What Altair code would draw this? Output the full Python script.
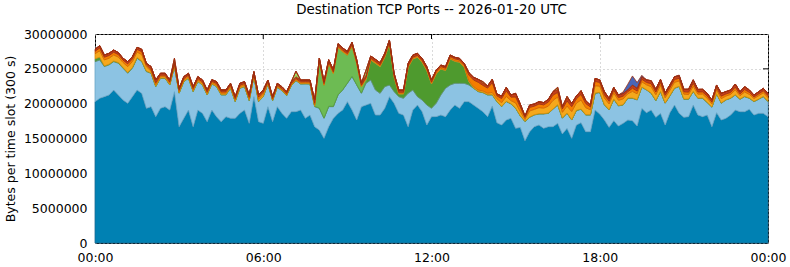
import altair as alt
import pandas as pd

# time slots (hours since 00:00 UTC), one every 10 minutes
SLOT_HOURS = [i / 6 for i in range(145)]

# values in millions of bytes per slot, bottom series first
DARK_BLUE = [
    20.29, 20.77, 21.01, 21.25, 21.96, 21.25, 20.53, 20.05, 21.01, 21.96, 21.48, 19.33, 19.57, 18.14, 19.33, 19.57, 19.09, 21.72, 16.70, 17.90, 19.09, 16.70, 19.09, 18.61, 17.42, 19.09, 18.14, 17.42, 18.14, 17.90, 17.90, 18.61, 19.09, 17.18, 21.01, 17.42, 17.18,
    19.57, 17.42, 19.57, 18.61, 17.90, 18.85, 18.85, 19.09, 17.90, 18.37, 16.70, 16.22, 15.02, 16.70, 17.90, 18.61, 19.09, 20.29, 19.09, 17.66, 19.57, 19.81, 20.05, 18.37, 18.37, 19.33, 21.01, 20.05, 18.61, 18.37, 16.70, 19.09, 19.81, 18.85, 16.94, 18.14,
    18.14, 18.37, 18.14, 19.09, 19.81, 19.33, 20.29, 20.29, 19.81, 19.33, 18.85, 18.14, 19.67, 17.27, 16.94, 17.66, 17.90, 16.46, 16.60, 14.69, 15.98, 16.70, 16.94, 16.46, 16.70, 16.70, 17.18, 15.65, 16.46, 15.02, 16.94, 17.27, 15.98, 15.98, 19.09, 18.52,
    17.66, 16.60, 17.56, 16.80, 17.18, 17.66, 17.56, 16.80, 19.33, 18.71, 19.09, 18.04, 18.61, 16.94, 18.71, 19.81, 18.61, 18.04, 18.14, 19.81, 18.37, 18.14, 18.37, 16.70, 18.71, 17.66, 17.90, 18.37, 19.09, 18.85, 18.85, 19.19, 18.37, 18.61, 18.61, 18.14,
]
LIGHT_BLUE = [
    5.74, 5.50, 4.31, 4.31, 4.07, 4.55, 4.55, 4.31, 4.07, 4.55, 4.55, 5.26, 4.79, 4.31, 4.31, 4.07, 3.59, 3.59, 4.79, 5.26, 4.55, 5.02, 4.07, 4.07, 3.83, 3.73, 4.31, 3.83, 3.11, 4.31, 2.39, 3.59, 3.35, 3.25, 2.87, 2.87, 3.83,
    3.25, 3.01, 2.78, 3.25, 3.25, 3.73, 4.45, 3.73, 4.93, 4.45, 2.87, 3.11, 2.87, 2.87, 1.67, 2.63, 2.87, 2.63, 4.79, 5.02, 1.91, 3.11, 3.35, 3.59, 3.11, 3.11, 1.67, 1.67, 2.39, 2.39, 4.79, 2.87, 1.20, 1.67, 2.87, 1.20,
    1.91, 2.87, 4.07, 3.59, 3.11, 3.59, 2.63, 2.39, 2.39, 2.39, 2.73, 3.11, 1.58, 3.01, 2.63, 2.63, 2.06, 2.87, 1.63, 2.73, 2.06, 1.67, 1.58, 2.06, 1.91, 2.49, 2.63, 2.25, 2.15, 2.63, 2.06, 1.91, 2.39, 2.39, 2.39, 3.06,
    2.15, 2.49, 3.06, 2.87, 2.63, 3.11, 3.21, 3.73, 3.01, 3.25, 2.39, 2.39, 3.11, 3.11, 2.39, 2.39, 3.83, 2.58, 2.49, 1.91, 2.39, 2.63, 1.77, 2.78, 2.68, 2.39, 2.63, 2.39, 2.15, 1.77, 2.15, 1.58, 1.91, 2.01, 2.39, 2.15,
]
DARK_GREEN = [
    0.4, 0.4, 0.1, 0.1, 0.1, 0.1, 0.1, 0.1, 0.1, 0.1, 0.1, 0.1, 0.05, 0.05, 0.05, 0.05, 0.05, 0.05, 0.05, 0.05, 0.05, 0.05, 0.05, 0.05, 0.05, 0.05, 0.05, 0.05, 0.05, 0.05, 0.05, 0.05, 0.05, 0.05, 0.05, 0.05, 0.05,
    0.05, 0.05, 0.05, 0.05, 0.05, 0.05, 0.05, 0.05, 0.05, 0.05, 0.05, 0.05, 0.05, 0.05, 0.05, 0.05, 0.05, 0.05, 0.05, 0.05, 0.05, 0.3, 2.87, 3.83, 3.83, 4.21, 5.89, 2.06, 0.38, 0.62, 3.73, 4.45, 5.65, 5.41, 4.93, 3.49,
    4.21, 3.73, 2.54, 3.73, 3.16, 3.01, 2.30, 0.48, 0.05, 0.05, 0.05, 0.05, 0.05, 0.05, 0.05, 0.05, 0.05, 0.05, 0.05, 0.05, 0.05, 0.05, 0.05, 0.05, 0.05, 0.05, 0.05, 0.05, 0.05, 0.05, 0.05, 0.05, 0.05, 0.05, 0.05, 0.05,
    0.05, 0.05, 0.05, 0.05, 0.05, 0.05, 0.05, 0.05, 0.05, 0.05, 0.05, 0.05, 0.05, 0.05, 0.05, 0.05, 0.05, 0.05, 0.05, 0.05, 0.05, 0.05, 0.05, 0.05, 0.05, 0.05, 0.05, 0.05, 0.05, 0.05, 0.05, 0.05, 0.05, 0.05, 0.05, 0.05,
]
# non-zero slots only (slot index -> value)
LIGHT_GREEN = {48: 6.60, 49: 4.69, 50: 6.12, 51: 4.69, 52: 6.75, 53: 5.41, 54: 3.97, 55: 4.31, 56: 3.01, 57: 0.86, 58: 0.3}
YELLOW = [
    0.75, 0.91, 0.86, 0.86, 0.86, 0.79, 0.74, 0.86, 0.86, 0.81, 0.92, 0.60, 0.25, 0.25, 0.2, 0.2, 0.2, 0.2, 0.2, 0.2, 0.2, 0.2, 0.2, 0.2, 0.2, 0.17, 0.2, 0.2, 0.2, 0.2, 0.2, 0.2, 0.2, 0.22, 0.2, 0.3, 0.3,
    0.12, 0.12, 0.12, 0.12, 0.12, 0.12, 0.12, 0.12, 0.12, 0.12, 0.2, 0.12, 0.12, 0.12, 0.12, 0.12, 0.12, 0.12, 0.12, 0.12, 0.12, 0.12, 0.12, 0.12, 0.12, 0.12, 0.12, 0.12, 0.12, 0.12, 0.12, 0.12, 0.12, 0.12, 0.12, 0.12,
    0.1, 0.1, 0.1, 0.1, 0.1, 0.1, 0.1, 0.15, 0.2, 0.2, 0.2, 0.2, 0.3, 0.37, 0.52, 0.7, 0.43, 0.73, 0.58, 0.26, 0.86, 0.76, 0.86, 0.79, 0.98, 1.24, 1.1, 0.81, 1.0, 1.17, 1.03, 1.3, 1.0, 0.7, 1.05, 0.88,
    0.95, 0.82, 0.85, 0.77, 0.82, 0.6, 0.95, 0.84, 0.75, 0.7, 0.9, 0.8, 0.87, 0.75, 0.77, 0.82, 0.77, 0.7, 0.63, 0.74, 0.56, 0.56, 0.58, 0.45, 0.56, 0.63, 0.52, 0.52, 0.7, 0.47, 0.63, 0.52, 0.41, 0.47, 0.52, 0.52,
]
ORANGE = [
    0.34, 0.42, 0.39, 0.39, 0.39, 0.36, 0.33, 0.39, 0.39, 0.37, 0.42, 0.28, 0.25, 0.25, 0.2, 0.2, 0.2, 0.2, 0.2, 0.2, 0.2, 0.2, 0.2, 0.2, 0.2, 0.17, 0.2, 0.2, 0.2, 0.2, 0.2, 0.2, 0.2, 0.22, 0.2, 0.3, 0.3,
    0.15, 0.15, 0.15, 0.15, 0.15, 0.15, 0.15, 0.15, 0.15, 0.15, 0.25, 0.15, 0.15, 0.15, 0.15, 0.15, 0.15, 0.15, 0.15, 0.15, 0.15, 0.15, 0.15, 0.15, 0.15, 0.15, 0.15, 0.15, 0.15, 0.15, 0.15, 0.15, 0.15, 0.15, 0.15, 0.15,
    0.25, 0.25, 0.25, 0.25, 0.25, 0.25, 0.25, 0.8, 0.95, 1.1, 0.8, 0.74, 1.4, 0.42, 0.6, 0.8, 0.5, 0.85, 0.67, 0.3, 0.52, 0.46, 0.52, 0.47, 0.59, 0.75, 0.65, 0.49, 0.73, 0.7, 0.62, 0.8, 0.6, 0.41, 0.63, 0.53,
    0.45, 0.4, 0.41, 0.38, 0.4, 0.29, 0.45, 0.4, 0.36, 0.34, 0.43, 0.39, 0.42, 0.36, 0.38, 0.4, 0.38, 0.34, 0.35, 0.41, 0.31, 0.31, 0.32, 0.25, 0.31, 0.35, 0.29, 0.29, 0.38, 0.26, 0.35, 0.29, 0.22, 0.26, 0.29, 0.29,
]
RED = [
    0.28, 0.33, 0.32, 0.32, 0.32, 0.28, 0.27, 0.32, 0.32, 0.30, 0.33, 0.22, 0.41, 0.41, 0.27, 0.27, 0.27, 0.25, 0.27, 0.27, 0.27, 0.27, 0.27, 0.27, 0.27, 0.23, 0.27, 0.27, 0.27, 0.27, 0.27, 0.27, 0.27, 0.32, 0.27, 0.31, 0.31,
    0.25, 0.25, 0.25, 0.25, 0.25, 0.25, 0.25, 0.25, 0.25, 0.25, 0.46, 0.3, 0.3, 0.3, 0.3, 0.3, 0.3, 0.3, 0.3, 0.3, 0.3, 0.3, 0.3, 0.3, 0.3, 0.3, 0.3, 0.3, 0.3, 0.3, 0.3, 0.3, 0.3, 0.3, 0.3, 0.3,
    0.22, 0.22, 0.22, 0.22, 0.22, 0.22, 0.22, 0.34, 0.38, 0.42, 0.33, 0.30, 0.5, 0.26, 0.36, 0.51, 0.31, 0.52, 0.42, 0.2, 0.34, 0.31, 0.34, 0.32, 0.39, 0.50, 0.44, 0.32, 0.46, 0.47, 0.41, 0.53, 0.41, 0.28, 0.42, 0.36,
    0.46, 0.4, 0.41, 0.38, 0.4, 0.28, 0.46, 0.41, 0.37, 0.35, 0.44, 0.39, 0.43, 0.37, 0.38, 0.4, 0.37, 0.35, 0.41, 0.47, 0.37, 0.37, 0.39, 0.30, 0.37, 0.41, 0.34, 0.34, 0.45, 0.32, 0.41, 0.34, 0.28, 0.32, 0.34, 0.34,
]
LIME = {17: 0.5, 43: 0.8, 58: 0.74, 83: 0.2, 99: 0.3, 101: 0.2}
PURPLE = {113: 0.2, 114: 0.8, 115: 1.3, 116: 0.8, 117: 0.2, 125: 0.1, 128: 0.1}

N = len(SLOT_HOURS)
for arr in (DARK_BLUE, LIGHT_BLUE, DARK_GREEN, YELLOW, ORANGE, RED):
    assert len(arr) == N, len(arr)


def dense(sparse):
    return [sparse.get(i, 0.0) for i in range(N)]


# name, values, fill colour, outline colour
SERIES = [
    ("port A", DARK_BLUE, "#0081b3", "#1c6b92"),
    ("port B", LIGHT_BLUE, "#8cc3e3", "#6aa6c6"),
    ("port C", DARK_GREEN, "#4e9a2e", "#5f8f6a"),
    ("port D", dense(LIGHT_GREEN), "#6dbb53", "#57a03f"),
    ("port E", YELLOW, "#f5a81c", "#d68c0f"),
    ("port F", ORANGE, "#f57d00", "#d26500"),
    ("port G", RED, "#c4401a", "#9e2f10"),
    ("port H", dense(LIME), "#9fd85f", "#9e2f10"),
    ("port I", dense(PURPLE), "#4866b8", "#9e2f10"),
]

rows = []
for k, (name, vals, _, _) in enumerate(SERIES):
    for h, v in zip(SLOT_HOURS, vals):
        rows.append({"hour": h, "series": name, "rank": k, "bytes": v * 1e6})
df = pd.DataFrame(rows)

names = [s[0] for s in SERIES]
fills = [s[2] for s in SERIES]
strokes = [s[3] for s in SERIES]

X_TICKS = [0, 6, 12, 18, 24]
Y_TICKS = [0, 5000000, 10000000, 15000000, 20000000, 25000000, 30000000]

x_axis = alt.Axis(
    values=X_TICKS,
    labelExpr="datum.value == 24 ? '00:00' : (datum.value < 10 ? '0' : '') + datum.value + ':00'",
    title=None, ticks=False, tickSize=0, domain=False, labelPadding=8,
    labelFlush=False, labelOverlap=False,
    grid=True, gridDash=[1, 3], gridColor="#b4b4b4", gridWidth=1,
)
y_axis = alt.Axis(
    values=Y_TICKS, format="d", title="Bytes per time slot (300 s)",
    ticks=False, tickSize=0, domain=False, labelPadding=8, titlePadding=6,
    labelOverlap=False, grid=True, gridDash=[1, 3], gridColor="#b4b4b4", gridWidth=1,
)
x_scale = alt.Scale(domain=[0, 24], nice=False, zero=False)
y_scale = alt.Scale(domain=[0, 30000000], nice=False)

W, H = 673, 209

top_ticks = alt.Chart(pd.DataFrame({"hour": X_TICKS[1:-1]})).mark_rule(
    color="black", strokeWidth=1
).encode(
    x=alt.X("hour:Q", scale=x_scale, axis=x_axis),
    y=alt.value(0), y2=alt.value(5),
)
right_ticks = alt.Chart(pd.DataFrame({"bytes": Y_TICKS[1:-1]})).mark_rule(
    color="black", strokeWidth=1
).encode(
    y=alt.Y("bytes:Q", scale=y_scale, axis=y_axis),
    x=alt.value(W - 5), x2=alt.value(W),
)

areas = alt.Chart(df).mark_area(interpolate="linear", strokeWidth=0.8).encode(
    x=alt.X("hour:Q", scale=x_scale, axis=x_axis),
    y=alt.Y("bytes:Q", stack="zero", scale=y_scale, axis=y_axis),
    fill=alt.Fill("series:N", scale=alt.Scale(domain=names, range=fills), legend=None),
    stroke=alt.Stroke("series:N", scale=alt.Scale(domain=names, range=strokes), legend=None),
    order=alt.Order("rank:Q", sort="ascending"),
)

chart = alt.layer(top_ticks, right_ticks, areas).properties(
    width=W,
    height=H,
    title=alt.TitleParams(
        "Destination TCP Ports -- 2026-01-20 UTC",
        font="DejaVu Sans", fontSize=13.4, fontWeight="normal",
        color="black", anchor="middle", offset=12,
    ),
    padding={"left": 95, "top": 34, "right": 22, "bottom": 24},
    autosize=alt.AutoSizeParams(type="none"),
    background="white",
).configure_view(
    stroke="black", strokeWidth=1
).configure_axis(
    labelFont="DejaVu Sans", labelFontSize=12.5, labelColor="black",
    titleFont="DejaVu Sans", titleFontSize=12.5, titleFontWeight="normal", titleColor="black",
)

chart.save("out.html", embed_options={"renderer": "svg", "actions": False})
